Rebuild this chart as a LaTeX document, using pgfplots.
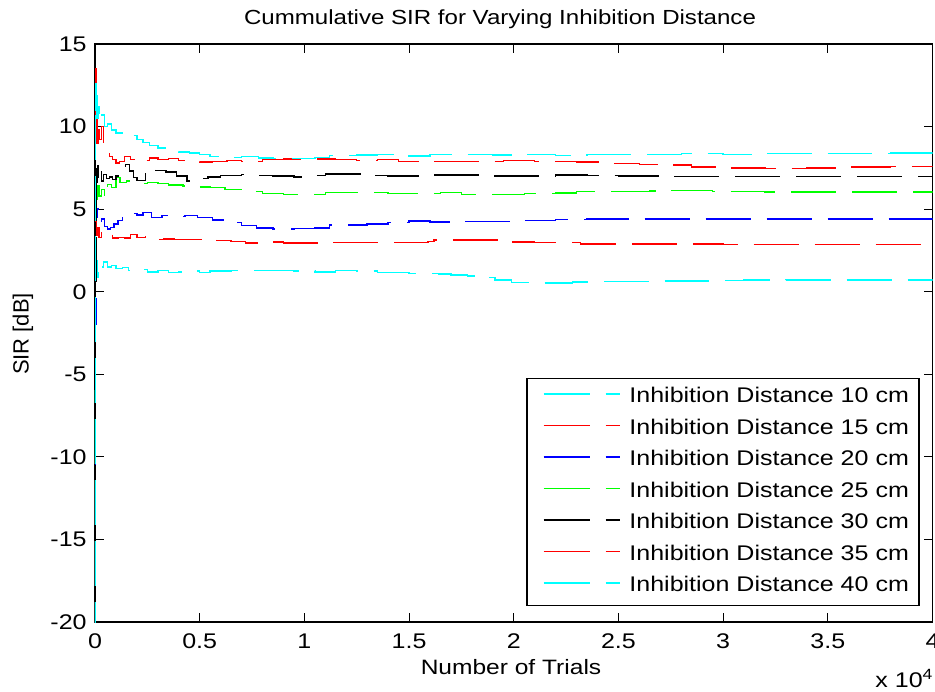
\documentclass[border=0pt]{standalone}
\usepackage{fontspec}
\setmainfont[FakeStretch=1.18]{Liberation Sans}
\newfontfamily\plainsans{Liberation Sans}
\usepackage{pgfplots}
\pgfplotsset{compat=1.18}

\definecolor{mcyan}{rgb}{0,1,1}
\definecolor{mred}{rgb}{1,0,0}
\definecolor{mblue}{rgb}{0,0,1}
\definecolor{mgreen}{rgb}{0,1,0}
\definecolor{mblack}{rgb}{0,0,0}

\begin{document}
\begin{tikzpicture}
\path[use as bounding box] (-47.5pt,-34.5pt) rectangle (420pt,311pt);
\begin{axis}[
  at={(0pt,0pt)}, anchor=south west,
  scale only axis, width=418.75pt, height=289pt,
  xmin=0, xmax=40000, ymin=-20, ymax=15,
  scaled x ticks=false, scaled y ticks=false,
  xtick={0,5000,...,40000},
  xticklabels={0,0.5,1,1.5,2,2.5,3,3.5,4},
  ytick={-20,-15,...,15},
  yticklabels={-20,-15,-10,-5,0,5,10,15},
  tick align=inside,
  major tick length=4.3pt,
  every tick/.style={black, line width=0.5pt},
  axis line style={line width=0.7pt},
  xticklabel style={font=\fontsize{10.6}{12}\selectfont, anchor=base, inner sep=0pt, yshift=-13pt},
  yticklabel style={font=\fontsize{10.6}{12}\selectfont, anchor=east, inner sep=0pt, xshift=-4pt},
  every axis plot/.append style={line width=0.7pt, const plot, dash pattern=on 22.5pt off 8pt},
  legend cell align=left,
  legend image code/.code={\path[draw=none] (0pt,1.75pt) -- (41.35pt,1.75pt);
    \draw[#1, line width=0.8pt, dash pattern=on 23pt off 8pt] (3.35pt,1.75pt) -- (41.35pt,1.75pt);},
  legend style={at={(0.9845,0.4221)}, anchor=north east, draw=black, line width=0.6pt,
    fill=white, inner xsep=5pt, inner ysep=4.5pt, row sep=5.75pt, column sep=4.5pt,
    font=\fontsize{10.6}{12}\selectfont,
    nodes={inner sep=0pt, text height=7.6pt, text depth=2.4pt}},
]
% 10 cm
\addplot[mcyan] coordinates {
(1,-40) (8,-6) (20,-1) (50,1.9) (90,0.9) (150,1.7) (250,1.5) (400,1.8) (600,1.5)
(800,1.6) (1000,1.4) (1300,1.45) (1600,1.3) (2000,1.35) (2500,1.2) (3000,1.3)
(3500,1.15) (4000,1.2) (4500,1.25) (5000,1.15) (5500,1.25) (6500,1.27) (8000,1.27)
(9500,1.25) (10500,1.2) (11500,1.27) (12500,1.25) (13500,1.17) (15000,1.12)
(16400,1.07) (17000,1.0) (17800,0.95) (18500,0.85) (19100,0.7) (19900,0.55)
(21000,0.53) (22000,0.53) (22800,0.6) (23500,0.62) (25000,0.63) (26500,0.65)
(28000,0.66) (29500,0.68) (31000,0.7) (33000,0.71) (35000,0.72) (37000,0.72) (40000,0.72)};
\addlegendentry{Inhibition Distance 10 cm}
% 15 cm
\addplot[mred] coordinates {
(1,-40) (6,-10) (15,-1) (40,4.3) (80,3.4) (130,3.9) (200,3.3) (300,3.6) (450,3.4)
(650,3.5) (850,3.25) (1100,3.3) (1400,3.25) (1700,3.45) (2000,3.3) (2400,3.35)
(2800,3.15) (3300,3.2) (3800,3.15) (4500,3.15) (5200,3.2) (5800,3.1) (6500,3.05)
(7200,2.95) (8000,3.0) (9000,2.96) (10000,2.96) (11000,2.98) (12000,2.97)
(13000,2.97) (14000,2.98) (15500,2.98) (15900,3.05) (16200,3.12) (17500,3.12)
(19600,3.12) (19800,3.0) (21000,2.98) (22500,2.98) (23200,2.9) (24500,2.88)
(27000,2.88) (30000,2.87) (33000,2.87) (36000,2.87) (40000,2.87)};
\addlegendentry{Inhibition Distance 15 cm}
% 20 cm
\addplot[mblue] coordinates {
(1,-40) (5,-12) (15,-2) (40,5.4) (80,4.5) (130,5.0) (200,4.2) (300,4.4) (450,3.95)
(600,3.8) (750,3.9) (900,4.1) (1100,4.3) (1300,4.6) (1600,4.75) (2000,4.65)
(2300,4.8) (2700,4.5) (3200,4.6) (3700,4.55) (4300,4.6) (4900,4.5) (5600,4.35)
(6300,4.2) (7000,4.0) (7700,3.85) (8500,3.8) (9500,3.82) (10500,3.85) (11200,4.05)
(12000,4.05) (13000,4.1) (14000,4.2) (15000,4.28) (16000,4.22) (17500,4.24)
(19000,4.25) (20000,4.32) (21000,4.3) (22000,4.37) (23500,4.4) (26000,4.41)
(30000,4.41) (34000,4.41) (40000,4.41)};
\addlegendentry{Inhibition Distance 20 cm}
% 25 cm
\addplot[mgreen] coordinates {
(1,-40) (5,-6) (15,2) (40,6.8) (80,5.6) (130,6.4) (200,5.8) (300,6.2) (450,5.7)
(600,6.5) (800,6.3) (1000,6.9) (1200,6.6) (1500,6.7) (2000,6.55) (2500,6.6)
(3000,6.55) (3500,6.45) (4200,6.4) (5000,6.35) (5500,6.3) (6200,6.2) (7000,6.05)
(8000,5.95) (9000,5.9) (10000,5.9) (11000,6.0) (12500,6.0) (14000,5.95)
(15500,5.95) (16500,6.0) (17500,5.88) (19000,5.9) (20500,5.95) (22000,5.97)
(23000,6.06) (25000,6.07) (26500,6.1) (27500,6.14) (28500,6.14) (29500,6.06)
(32000,6.04) (35000,6.04) (40000,6.04)};
\addlegendentry{Inhibition Distance 25 cm}
% 30 cm
\addplot[mblack] coordinates {
(1,-40) (5,-9) (15,0) (40,7.7) (70,6.6) (110,7.6) (160,6.8) (230,7.4) (320,6.7)
(420,7.1) (550,6.85) (700,6.95) (850,6.8) (1000,7.0) (1150,7.3) (1300,7.6)
(1450,7.7) (1650,7.3) (1850,6.9) (2000,6.75) (2400,7.45) (2900,7.35) (3400,7.25)
(3900,7.0) (4400,6.7) (4900,6.85) (5400,6.95) (6000,7.05) (7000,7.1) (7800,7.05)
(8500,7.0) (9500,6.95) (10200,7.05) (11000,7.13) (12200,7.13) (13000,7.05)
(14000,7.0) (15500,7.07) (17500,7.07) (18800,7.0) (20500,7.0) (22000,7.07)
(23500,7.05) (25000,7.0) (27000,6.97) (30000,6.97) (34000,6.97) (40000,6.97)};
\addlegendentry{Inhibition Distance 30 cm}
% 35 cm
\addplot[mred] coordinates {
(1,-40) (4,-10) (10,2) (25,13.5) (45,9.5) (70,11.0) (100,9.0) (140,10.2) (200,9.2)
(300,10.0) (400,8.9) (550,8.6) (700,8.2) (850,8.0) (1000,7.8) (1170,7.9)
(1400,8.2) (1700,8.0) (2000,8.1) (2300,7.95) (2600,8.1) (3000,8.0) (3500,8.05)
(4000,7.95) (4500,7.95) (5000,7.85) (5600,7.9) (6300,7.95) (7000,7.9) (8000,8.0)
(9000,8.04) (10500,8.04) (11500,8.0) (12500,7.95) (13500,8.0) (14500,7.9)
(16000,7.87) (18000,7.9) (19500,7.93) (21000,7.9) (23000,7.85) (24500,7.78)
(26000,7.72) (27500,7.68) (28500,7.55) (30000,7.48) (32000,7.47) (34000,7.5)
(36000,7.55) (38000,7.58) (40000,7.58)};
\addlegendentry{Inhibition Distance 35 cm}
% 40 cm
\addplot[mcyan] coordinates {
(1,-40) (4,-6) (10,4) (25,12.6) (45,11.0) (70,12.0) (100,10.5) (150,11.2) (220,10.3)
(320,10.7) (450,10.0) (600,10.15) (800,9.8) (1000,9.6) (1300,9.7) (1600,9.45)
(2000,9.2) (2300,9.05) (2600,8.85) (3000,8.7) (3500,8.55) (4000,8.45) (4500,8.4)
(5000,8.3) (5500,8.2) (6100,8.12) (7000,8.18) (7800,8.1) (8500,8.05) (9500,8.08)
(10500,8.12) (11200,8.25) (12500,8.28) (13500,8.3) (14500,8.22) (16000,8.32)
(17500,8.32) (19000,8.27) (20500,8.3) (22000,8.25) (23500,8.3) (25000,8.32)
(26500,8.32) (28000,8.36) (30000,8.32) (32000,8.38) (34000,8.36) (36000,8.38)
(38000,8.4) (40000,8.38)};
\addlegendentry{Inhibition Distance 40 cm}
\end{axis}
\node[anchor=base, font=\fontsize{10.2}{12}\selectfont] at (202.5pt,298.5pt)
  {Cummulative SIR for Varying Inhibition Distance};
\node[anchor=base, font=\fontsize{10.4}{12}\selectfont] at (208pt,-26pt) {Number of Trials};
\node[anchor=base west, inner sep=0pt, font=\fontsize{10.6}{12}\selectfont] at (390pt,-32.5pt)
  {x 10\textsuperscript{4}};
\node[rotate=90, font=\plainsans\fontsize{11}{13}\selectfont] at (-36pt,144pt) {SIR [dB]};
\end{tikzpicture}
\end{document}
